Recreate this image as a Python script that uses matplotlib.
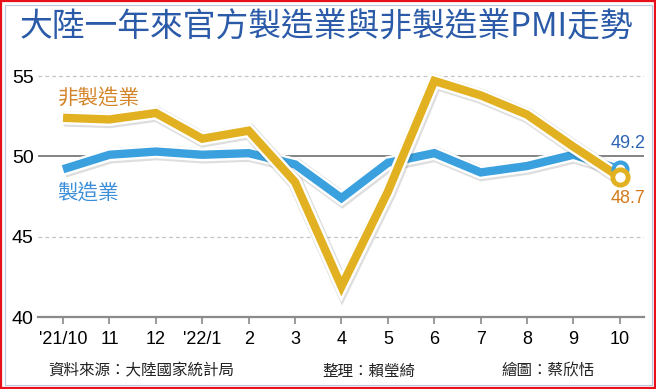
import matplotlib.pyplot as plt
import matplotlib.patheffects as pe
from matplotlib.patches import Rectangle

plt.rcParams['font.family'] = ['Noto Sans CJK TC', 'DejaVu Sans']

# data
months = ["'21/10", "11", "12", "'22/1", "2", "3", "4", "5", "6", "7", "8", "9", "10"]
manufacturing = [49.2, 50.1, 50.3, 50.1, 50.2, 49.5, 47.4, 49.6, 50.2, 49.0, 49.4, 50.1, 49.2]
non_manufacturing = [52.4, 52.3, 52.7, 51.1, 51.6, 48.4, 41.9, 47.8, 54.7, 53.8, 52.6, 50.6, 48.7]
y_ticks = [40, 45, 50, 55]

blue = "#3aa0de"
gold = "#e2b122"

fig = plt.figure(figsize=(6.56, 3.89), dpi=100)
W, H = 656, 389

# borders
fig.patches.append(Rectangle((1 / W, 1 / H), 1 - 2 / W, 1 - 2 / H, transform=fig.transFigure,
                             fill=False, edgecolor="#e8101a", linewidth=1.6))
fig.patches.append(Rectangle((4.5 / W, 4.5 / H), 1 - 9 / W, 1 - 9 / H, transform=fig.transFigure,
                             fill=False, edgecolor="#b8c8dc", linewidth=0.8))

ax = fig.add_axes([38 / W, 1 - 317 / H, 606 / W, 257 / H])
x = list(range(len(months)))

ax.set_xlim(-0.54, 12.52)
ax.set_ylim(40, 56)

# grid lines
for v in [45, 55]:
    ax.axhline(v, color="#c4c4c4", linewidth=0.9, linestyle=(0, (3, 2.5)), zorder=1)
ax.axhline(50, color="#7a7a7a", linewidth=1.3, zorder=1)

outline = [pe.SimpleLineShadow(offset=(0.6, -0.8), shadow_color="#000000", alpha=0.13, linewidth=11),
           pe.Stroke(linewidth=9.5, foreground="white"), pe.Normal()]

ax.plot(x, manufacturing, color=blue, linewidth=6, solid_joinstyle="miter",
        solid_capstyle="butt", zorder=3, path_effects=outline)
ax.plot(x, non_manufacturing, color=gold, linewidth=6, solid_joinstyle="miter",
        solid_capstyle="butt", zorder=4, path_effects=outline)

ax.plot(x[-1], manufacturing[-1], marker="o", markersize=10, markerfacecolor="white",
        markeredgecolor=blue, markeredgewidth=3, zorder=5)
ax.plot(x[-1], non_manufacturing[-1], marker="o", markersize=11, markerfacecolor="white",
        markeredgecolor=gold, markeredgewidth=3.5, zorder=6)

# labels
ax.text(-0.12, 53.6, "非製造業", color="#d4852a", fontsize=14.8, va="center", ha="left")
ax.text(-0.12, 47.7, "製造業", color="#3b8fd8", fontsize=14.8, va="center", ha="left")
ax.text(12.55, 50.8, "49.2", color="#2c63b5", fontsize=13, va="center", ha="right",
        family=["Liberation Sans", "DejaVu Sans"])
ax.text(12.55, 47.4, "48.7", color="#d47a1c", fontsize=13, va="center", ha="right",
        family=["Liberation Sans", "DejaVu Sans"])

# axes styling
for s in ["top", "right", "left"]:
    ax.spines[s].set_visible(False)
ax.spines["bottom"].set_color("#8a8a8a")
ax.spines["bottom"].set_linewidth(1.6)

ax.set_xticks(x)
ax.set_xticklabels(months, family=["Liberation Sans Narrow", "Liberation Sans", "DejaVu Sans"],
                   fontsize=13)
ax.tick_params(axis="x", length=5, width=1.2, color="#8a8a8a", pad=5)
ax.set_yticks(y_ticks)
ax.set_yticklabels([str(v) for v in y_ticks], family=["Liberation Sans Narrow", "Liberation Sans", "DejaVu Sans"],
                   fontsize=14)
ax.tick_params(axis="y", length=0, pad=3)
ax.set_facecolor("none")

# title and footer
fig.text(326 / W, 1 - 28 / H, "大陸一年來官方製造業與非製造業PMI走勢", color="#2b5aa8",
         fontsize=23.6, fontweight="medium", ha="center", va="center")
fig.text(48 / W, 1 - 371 / H, "資料來源：大陸國家統計局", fontsize=11.2, color="#222222", va="center")
fig.text(322 / W, 1 - 371 / H, "整理：賴瑩綺", fontsize=11.2, color="#222222", va="center")
fig.text(502 / W, 1 - 371 / H, "繪圖：蔡欣恬", fontsize=11.2, color="#222222", va="center")

fig.savefig("out.png", dpi=100)
